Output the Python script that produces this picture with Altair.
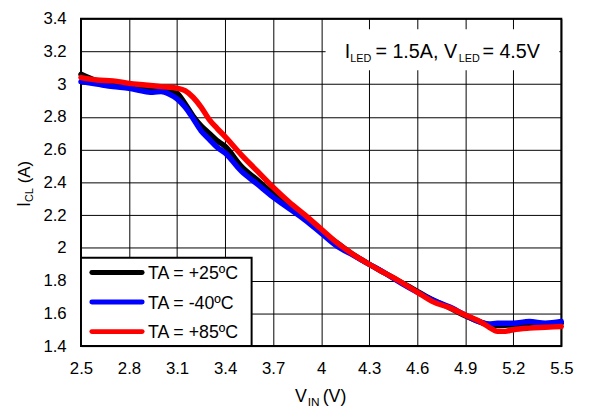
import altair as alt
import pandas as pd

FONT = "Liberation Sans"

# ---------------- data ----------------
x_ticks = [2.5, 2.8, 3.1, 3.4, 3.7, 4.0, 4.3, 4.6, 4.9, 5.2, 5.5]
y_ticks = [1.4, 1.6, 1.8, 2.0, 2.2, 2.4, 2.6, 2.8, 3.0, 3.2, 3.4]

series_names = ["TA = +25ºC", "TA = -40ºC", "TA = +85ºC"]
series_colors = ["#000000", "#0000ff", "#ff0000"]

vin_25 = [2.5, 2.6, 2.7, 2.8, 2.9, 3.0, 3.05, 3.1, 3.15, 3.2, 3.25, 3.3, 3.35, 3.4,
          3.5, 3.6, 3.7, 3.8, 3.9, 4.0, 4.1, 4.2, 4.3, 4.4, 4.5, 4.6, 4.7, 4.8,
          4.9, 5.0, 5.05, 5.1, 5.2, 5.3, 5.4, 5.5]
icl_25 = [3.06, 3.02, 3.005, 2.995, 2.98, 2.97, 2.965, 2.945, 2.88, 2.805, 2.745, 2.70,
          2.655, 2.62, 2.50, 2.415, 2.33, 2.25, 2.18, 2.10, 2.03, 1.96, 1.90, 1.845,
          1.79, 1.735, 1.68, 1.635, 1.585, 1.545, 1.53, 1.525, 1.53, 1.535, 1.535, 1.54]

vin_m40 = [2.5, 2.6, 2.7, 2.8, 2.9, 2.95, 3.0, 3.05, 3.1, 3.15, 3.2, 3.25, 3.3, 3.35,
           3.4, 3.5, 3.6, 3.7, 3.8, 3.9, 4.0, 4.1, 4.2, 4.3, 4.4, 4.5, 4.6, 4.7,
           4.8, 4.9, 5.0, 5.05, 5.1, 5.2, 5.3, 5.4, 5.5]
icl_m40 = [3.015, 3.0, 2.985, 2.975, 2.955, 2.95, 2.955, 2.94, 2.91, 2.86, 2.79, 2.715,
           2.665, 2.615, 2.58, 2.47, 2.39, 2.31, 2.24, 2.17, 2.09, 2.01, 1.955, 1.90,
           1.845, 1.785, 1.73, 1.68, 1.64, 1.59, 1.545, 1.535, 1.54, 1.54, 1.55, 1.54, 1.55]

vin_85 = [2.5, 2.6, 2.7, 2.8, 2.9, 3.0, 3.1, 3.15, 3.2, 3.25, 3.3, 3.35, 3.4, 3.5,
          3.6, 3.7, 3.8, 3.9, 4.0, 4.1, 4.2, 4.3, 4.4, 4.5, 4.6, 4.7, 4.8, 4.9,
          5.0, 5.05, 5.1, 5.15, 5.2, 5.3, 5.4, 5.5]
icl_85 = [3.04, 3.025, 3.02, 3.005, 2.995, 2.985, 2.975, 2.96, 2.92, 2.86, 2.785, 2.73,
          2.68, 2.57, 2.47, 2.37, 2.28, 2.20, 2.115, 2.03, 1.96, 1.90, 1.845, 1.79,
          1.73, 1.67, 1.635, 1.59, 1.545, 1.515, 1.49, 1.49, 1.50, 1.51, 1.515, 1.52]

series_x = [vin_25, vin_m40, vin_85]
series_y = [icl_25, icl_m40, icl_85]

# title / annotation texts: (text, font size)
x_title = [("V", 18), ("IN", 12), ("(V)", 18)]
y_title = [("I", 18), ("CL", 11), ("(A)", 17)]
note = [("I", 20), ("LED", 11), ("= 1.5A, V", 20), ("LED", 11), ("= 4.5V", 20)]

# ---------------- chart ----------------
W, H = 487, 332

xscale = alt.Scale(domain=[2.5, 5.5], nice=False, zero=False)
yscale = alt.Scale(domain=[1.4, 3.4], nice=False, zero=False)

common_axis = dict(format="~g", title=None, grid=True, gridColor="black", gridWidth=1,
                   gridOpacity=1, ticks=False, tickSize=0, domain=False, labelFont=FONT,
                   labelColor="black", labelOverlap=False, labelFlush=False, labelBound=False)
xaxis = alt.Axis(values=x_ticks, labelFontSize=17, labelPadding=28,
                 labelBaseline="alphabetic", **common_axis)
yaxis = alt.Axis(values=y_ticks, labelFontSize=17, labelPadding=15, **common_axis)

layers = []
for vx, vy, col in zip(series_x, series_y, series_colors):
    d = pd.DataFrame({"vin": vx, "icl": vy})
    layers.append(
        alt.Chart(d).mark_line(color=col, strokeWidth=5.5, interpolate="monotone",
                               strokeCap="round", strokeJoin="round")
        .encode(x=alt.X("vin:Q", scale=xscale, axis=xaxis),
                y=alt.Y("icl:Q", scale=yscale, axis=yaxis))
    )


def text_seg(text, size, x, y, angle=0):
    d = pd.DataFrame({"t": [text]})
    return alt.Chart(d).mark_text(font=FONT, fontSize=size, align="left",
                                  baseline="alphabetic", angle=angle,
                                  color="black").encode(
        x=alt.value(x), y=alt.value(y), text="t:N")


# annotation box + text
one = pd.DataFrame({"k": [0]})
layers.append(alt.Chart(one).mark_rect(fill="white", stroke=None).encode(
    x=alt.value(248), x2=alt.value(485), y=alt.value(10.7), y2=alt.value(52.3)))
note_pos = [(267.5, 40), (273.0, 44), (298.5, 40), (383.0, 44), (407.0, 40)]
for (t, s), (px, py) in zip(note, note_pos):
    layers.append(text_seg(t, s, px, py))

# legend (drawn manually)
layers.append(alt.Chart(one).mark_rect(fill="white", stroke="black", strokeWidth=2).encode(
    x=alt.value(0), x2=alt.value(173), y=alt.value(242.5), y2=alt.value(332)))
for i, (name, col) in enumerate(zip(series_names, series_colors)):
    ry = 257.3 + 30 * i
    d = pd.DataFrame({"t": [name]})
    layers.append(alt.Chart(d).mark_rule(color=col, strokeWidth=5, strokeCap="round").encode(
        x=alt.value(11), x2=alt.value(62), y=alt.value(ry)))
    layers.append(text_seg(name, 18, 68, ry + 6.8))

# axis titles with subscripts
xt_pos = [(217, 389), (230, 392.5), (245, 389)]
for (t, s), (px, py) in zip(x_title, xt_pos):
    layers.append(text_seg(t, s, px, py))
yt_pos = [(-52, 191), (-49, 186), (-52, 167)]
for (t, s), (px, py) in zip(y_title, yt_pos):
    layers.append(text_seg(t, s, px, py, angle=270))

chart = alt.layer(*layers).properties(
    width=W, height=H,
    autosize=alt.AutoSizeParams(type="none"),
    padding={"left": 74, "top": 8, "right": 23, "bottom": 63},
).configure_view(stroke="black", strokeWidth=2)

chart.save("out.html", embed_options={"renderer": "svg", "actions": False})
